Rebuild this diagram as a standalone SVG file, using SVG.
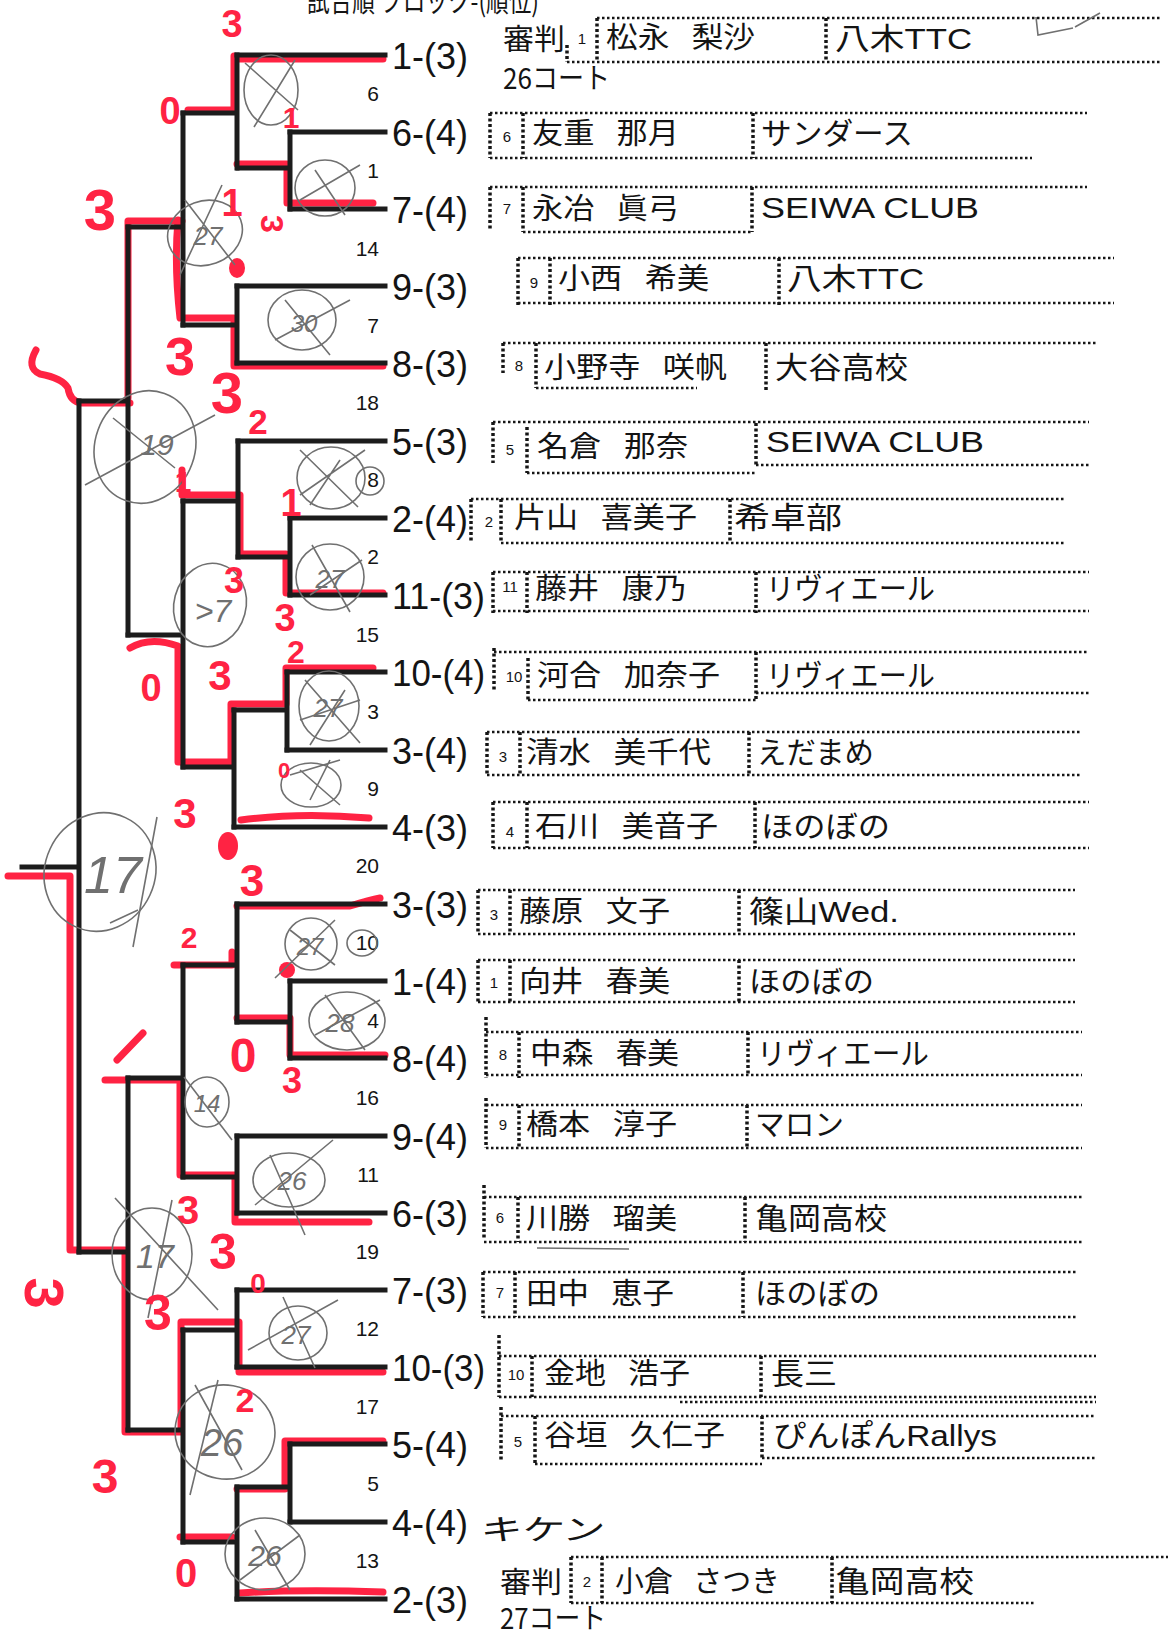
<svg xmlns="http://www.w3.org/2000/svg" width="1168" height="1634" viewBox="0 0 1168 1634">
<style>
.br{stroke:#1c1c1c;stroke-width:5;fill:none;stroke-linecap:square}
.hl{stroke:#ff2343;stroke-width:7;fill:none;stroke-linecap:round;stroke-linejoin:round}
.dt{stroke:#161616;stroke-width:2.5;stroke-dasharray:2.5 2.5;fill:none}
.dv{stroke:#161616;stroke-width:3.5;stroke-dasharray:3 2.5;fill:none}
.lbl{font-family:"Liberation Sans",Arial,sans-serif;font-size:36px;fill:#141414}
.mn{font-family:"Liberation Sans",Arial,sans-serif;font-size:21px;fill:#141414;text-anchor:end}
.nm{font-family:"Noto Sans CJK JP","Noto Sans CJK SC",sans-serif;font-size:29px;fill:#141414}
.pn{word-spacing:14px}
.tm{font-family:"Liberation Sans","Noto Sans CJK JP",sans-serif;font-size:30px;fill:#141414}
.sd{font-family:"Liberation Sans",Arial,sans-serif;font-size:15px;fill:#141414;text-anchor:middle}
.pc{stroke:#707070;stroke-width:1.6;fill:none}
.pt{font-family:"Liberation Sans",Arial,sans-serif;font-style:italic;fill:#707070;text-anchor:middle}
.rn{font-family:"Liberation Sans",Arial,sans-serif;font-weight:bold;fill:#ff2343;text-anchor:middle}
</style>
<rect width="1168" height="1634" fill="#fff"/>
<text class="nm" x="307" y="12" font-size="24" textLength="232" lengthAdjust="spacingAndGlyphs">試合順 ブロック-(順位)</text>

<g id="red-highlights">
<path class="hl" d="M237,59H383"/>
<path class="hl" d="M234,56V110H188"/>
<path class="hl" d="M237,164H287V203H373"/>
<path class="hl" d="M182,221H128V398"/>
<path class="hl" d="M178,220Q174,265 180,318H234V366H383"/>
<path class="hl" d="M36,350Q26,368 40,374Q62,378 68,388Q70,402 82,403H130"/>
<path class="hl" d="M182,470V495H240V554H286V593H383"/>
<path class="hl" d="M130,648Q150,636 178,646V762H231V704H286V668H373"/>
<path class="hl" d="M241,820Q300,812 369,818"/>
<path class="hl" d="M237,906H350Q370,900 380,898"/>
<path class="hl" d="M174,965H232V952"/>
<path class="hl" d="M237,1018H290V1055H385"/>
<path class="hl" d="M105,1080H180V1175H235V1222H369"/>
<path class="hl" d="M383,1372H239V1322H181V1432H125V1250H70V876H8"/>
<path class="hl" d="M237,1489H285V1441H383"/>
<path class="hl" d="M180,1537H232"/>
<path class="hl" stroke-width="10" d="M240,1593Q300,1589 383,1592"/>
<path class="hl" stroke-width="8" d="M117,1060L143,1033"/>
<ellipse cx="237" cy="268" rx="8" ry="10" fill="#ff2343"/>
<ellipse cx="228" cy="846" rx="10" ry="14" fill="#ff2343"/>
<ellipse cx="287" cy="970" rx="8" ry="8" fill="#ff2343"/>
</g>

<g id="connectors">
<path class="br" d="M237,55H385 M290,132H385 M290,209H385 M237,286H385 M237,363H385 M238,441H385 M290,518H385 M290,595H385 M287,672H385 M287,750H385 M234,827H385 M237,904H385 M290,981H385 M290,1058H385 M237,1136H385 M237,1213H385 M237,1290H385 M237,1367H385 M290,1444H385 M290,1522H385 M237,1599H385"/>
<path class="br" d="M290,132V209 M238,168H290"/>
<path class="br" d="M237,55V168 M183,113H237"/>
<path class="br" d="M237,286V363 M183,325H237"/>
<path class="br" d="M183,113V325 M128,227H183"/>
<path class="br" d="M290,518V595 M238,557H290"/>
<path class="br" d="M238,441V557 M183,501H238"/>
<path class="br" d="M287,672V750 M234,710H287"/>
<path class="br" d="M234,710V827 M183,767H234"/>
<path class="br" d="M183,501V767 M128,635H183"/>
<path class="br" d="M128,227V635 M79,401H128"/>
<path class="br" d="M290,981V1058 M237,1022H290"/>
<path class="br" d="M237,904V1022 M183,965H237"/>
<path class="br" d="M237,1136V1213 M183,1177H237"/>
<path class="br" d="M183,965V1177 M128,1078H183"/>
<path class="br" d="M237,1290V1367 M183,1330H237"/>
<path class="br" d="M290,1444V1522 M237,1487H290"/>
<path class="br" d="M237,1487V1599 M183,1542H237"/>
<path class="br" d="M183,1330V1542 M128,1430H183"/>
<path class="br" d="M128,1078V1430 M79,1252H128"/>
<path class="br" d="M79,401V1252 M22,867H79"/>
</g>

<g id="match-numbers">
<text class="mn" x="379" y="101">6</text>
<text class="mn" x="379" y="178">1</text>
<text class="mn" x="379" y="256">14</text>
<text class="mn" x="379" y="333">7</text>
<text class="mn" x="379" y="410">18</text>
<text class="mn" x="379" y="487">8</text>
<text class="mn" x="379" y="564">2</text>
<text class="mn" x="379" y="642">15</text>
<text class="mn" x="379" y="719">3</text>
<text class="mn" x="379" y="796">9</text>
<text class="mn" x="379" y="873">20</text>
<text class="mn" x="379" y="950">10</text>
<text class="mn" x="379" y="1028">4</text>
<text class="mn" x="379" y="1105">16</text>
<text class="mn" x="379" y="1182">11</text>
<text class="mn" x="379" y="1259">19</text>
<text class="mn" x="379" y="1336">12</text>
<text class="mn" x="379" y="1414">17</text>
<text class="mn" x="379" y="1491">5</text>
<text class="mn" x="379" y="1568">13</text>
</g>

<g id="row0">
<text class="lbl" x="392" y="69" textLength="76" lengthAdjust="spacingAndGlyphs">1-(3)</text>
<text class="nm" x="503" y="50" font-size="29" textLength="62" lengthAdjust="spacingAndGlyphs">審判</text>
<text class="nm" x="503" y="89" font-size="27" textLength="107" lengthAdjust="spacingAndGlyphs">26コート</text>
<path class="dt" d="M597,18H1162 M567,62H1162"/>
<path class="dv" d="M567,45V62 M597,18V62 M826,18V62"/>
<text class="sd" x="582" y="44">1</text>
<text class="nm pn" x="606" y="48" textLength="149" lengthAdjust="spacingAndGlyphs">松永 梨沙</text>
<text class="tm" x="835" y="49" textLength="137" lengthAdjust="spacingAndGlyphs">八木TTC</text>
</g>
<g id="row1">
<text class="lbl" x="392" y="146" textLength="76" lengthAdjust="spacingAndGlyphs">6-(4)</text>
<path class="dt" d="M490,113H1087 M490,158H1032"/>
<path class="dv" d="M490,113V158 M523,113V158 M753,113V158"/>
<text class="sd" x="507" y="142">6</text>
<text class="nm pn" x="532" y="144" textLength="147" lengthAdjust="spacingAndGlyphs">友重 那月</text>
<text class="tm" x="761" y="144" textLength="152" lengthAdjust="spacingAndGlyphs">サンダース</text>
</g>
<g id="row2">
<text class="lbl" x="392" y="223" textLength="76" lengthAdjust="spacingAndGlyphs">7-(4)</text>
<path class="dt" d="M490,187H1087 M523,232H752"/>
<path class="dv" d="M490,187V230 M523,187V232 M752,187V232"/>
<text class="sd" x="507" y="214">7</text>
<text class="nm pn" x="532" y="219" textLength="147" lengthAdjust="spacingAndGlyphs">永冶 眞弓</text>
<text class="tm" x="761" y="218" textLength="218" lengthAdjust="spacingAndGlyphs">SEIWA CLUB</text>
</g>
<g id="row3">
<text class="lbl" x="392" y="300" textLength="76" lengthAdjust="spacingAndGlyphs">9-(3)</text>
<path class="dt" d="M518,258H1114 M518,303H1114"/>
<path class="dv" d="M518,258V305 M550,258V305 M779,258V305"/>
<text class="sd" x="534" y="288">9</text>
<text class="nm pn" x="558" y="289" textLength="151" lengthAdjust="spacingAndGlyphs">小西 希美</text>
<text class="tm" x="787" y="289" textLength="137" lengthAdjust="spacingAndGlyphs">八木TTC</text>
</g>
<g id="row4">
<text class="lbl" x="392" y="377" textLength="76" lengthAdjust="spacingAndGlyphs">8-(3)</text>
<path class="dt" d="M503,343H1098 M536,388H697"/>
<path class="dv" d="M503,343V373 M536,343V388 M766,343V392"/>
<text class="sd" x="519" y="371">8</text>
<text class="nm pn" x="544" y="378" textLength="183" lengthAdjust="spacingAndGlyphs">小野寺 咲帆</text>
<text class="tm" x="775" y="378" textLength="133" lengthAdjust="spacingAndGlyphs">大谷高校</text>
</g>
<g id="row5">
<text class="lbl" x="392" y="455" textLength="76" lengthAdjust="spacingAndGlyphs">5-(3)</text>
<path class="dt" d="M493,422H1089 M527,473H756 M756,465H1089"/>
<path class="dv" d="M493,422V463 M527,427V473 M756,423V467"/>
<text class="sd" x="510" y="455">5</text>
<text class="nm pn" x="537" y="457" textLength="151" lengthAdjust="spacingAndGlyphs">名倉 那奈</text>
<text class="tm" x="766" y="452" textLength="218" lengthAdjust="spacingAndGlyphs">SEIWA CLUB</text>
</g>
<g id="row6">
<text class="lbl" x="392" y="532" textLength="76" lengthAdjust="spacingAndGlyphs">2-(4)</text>
<path class="dt" d="M471,499H1066 M501,543H1066"/>
<path class="dv" d="M471,499V543 M501,499V543 M730,499V543"/>
<text class="sd" x="489" y="527">2</text>
<text class="nm pn" x="514" y="528" textLength="183" lengthAdjust="spacingAndGlyphs">片山 喜美子</text>
<text class="tm" x="734" y="528" textLength="108" lengthAdjust="spacingAndGlyphs">希卓部</text>
</g>
<g id="row7">
<text class="lbl" x="392" y="609" textLength="93" lengthAdjust="spacingAndGlyphs">11-(3)</text>
<path class="dt" d="M493,572H1089"/>
<path class="dt" stroke-width="3.5" d="M493,611H1089"/>
<path class="dv" d="M493,572V613 M527,572V613 M756,572V613"/>
<text class="sd" x="510" y="592">11</text>
<text class="nm pn" x="535" y="599" textLength="151" lengthAdjust="spacingAndGlyphs">藤井 康乃</text>
<text class="tm" x="766" y="599" textLength="169" lengthAdjust="spacingAndGlyphs">リヴィエール</text>
</g>
<g id="row8">
<text class="lbl" x="392" y="686" textLength="93" lengthAdjust="spacingAndGlyphs">10-(4)</text>
<path class="dt" d="M494,652H1089 M528,700H756 M756,693H1089"/>
<path class="dv" d="M494,648V690 M528,658V702 M756,652V700"/>
<text class="sd" x="514" y="682">10</text>
<text class="nm pn" x="537" y="686" textLength="183" lengthAdjust="spacingAndGlyphs">河合 加奈子</text>
<text class="tm" x="766" y="686" textLength="169" lengthAdjust="spacingAndGlyphs">リヴィエール</text>
</g>
<g id="row9">
<text class="lbl" x="392" y="764" textLength="76" lengthAdjust="spacingAndGlyphs">3-(4)</text>
<path class="dt" d="M487,732H1082 M487,775H1082"/>
<path class="dv" d="M487,732V775 M520,732V775 M749,732V775"/>
<text class="sd" x="503" y="762">3</text>
<text class="nm pn" x="526" y="763" textLength="185" lengthAdjust="spacingAndGlyphs">清水 美千代</text>
<text class="tm" x="757" y="763" textLength="117" lengthAdjust="spacingAndGlyphs">えだまめ</text>
</g>
<g id="row10">
<text class="lbl" x="392" y="841" textLength="76" lengthAdjust="spacingAndGlyphs">4-(3)</text>
<path class="dt" d="M493,802H1089 M493,848H1089"/>
<path class="dv" d="M493,802V848 M527,802V848 M755,802V848"/>
<text class="sd" x="510" y="837">4</text>
<text class="nm pn" x="535" y="837" textLength="183" lengthAdjust="spacingAndGlyphs">石川 美音子</text>
<text class="tm" x="761" y="837" textLength="129" lengthAdjust="spacingAndGlyphs">ほのぼの</text>
</g>
<g id="row11">
<text class="lbl" x="392" y="918" textLength="76" lengthAdjust="spacingAndGlyphs">3-(3)</text>
<path class="dt" d="M478,890H1075 M478,934H1075"/>
<path class="dv" d="M478,890V934 M510,890V934 M739,890V934"/>
<text class="sd" x="494" y="920">3</text>
<text class="nm pn" x="519" y="922" textLength="151" lengthAdjust="spacingAndGlyphs">藤原 文子</text>
<text class="tm" x="749" y="922" textLength="150" lengthAdjust="spacingAndGlyphs">篠山Wed.</text>
</g>
<g id="row12">
<text class="lbl" x="392" y="995" textLength="76" lengthAdjust="spacingAndGlyphs">1-(4)</text>
<path class="dt" d="M478,960H1075 M478,1002H1075"/>
<path class="dv" d="M478,960V1002 M510,960V1002 M739,960V1002"/>
<text class="sd" x="494" y="988">1</text>
<text class="nm pn" x="519" y="992" textLength="151" lengthAdjust="spacingAndGlyphs">向井 春美</text>
<text class="tm" x="749" y="992" textLength="125" lengthAdjust="spacingAndGlyphs">ほのぼの</text>
</g>
<g id="row13">
<text class="lbl" x="392" y="1072" textLength="76" lengthAdjust="spacingAndGlyphs">8-(4)</text>
<path class="dt" stroke-width="3.5" d="M486,1032H1082"/>
<path class="dt" d="M486,1075H1082"/>
<path class="dv" d="M486,1017V1078 M519,1032V1078 M748,1032V1075"/>
<text class="sd" x="503" y="1060">8</text>
<text class="nm pn" x="530" y="1064" textLength="149" lengthAdjust="spacingAndGlyphs">中森 春美</text>
<text class="tm" x="757" y="1064" textLength="172" lengthAdjust="spacingAndGlyphs">リヴィエール</text>
</g>
<g id="row14">
<text class="lbl" x="392" y="1150" textLength="76" lengthAdjust="spacingAndGlyphs">9-(4)</text>
<path class="dt" d="M486,1105H1082 M486,1148H1082"/>
<path class="dv" d="M486,1098V1148 M519,1105V1148 M747,1105V1148"/>
<text class="sd" x="503" y="1130">9</text>
<text class="nm pn" x="526" y="1135" textLength="151" lengthAdjust="spacingAndGlyphs">橋本 淳子</text>
<text class="tm" x="755" y="1135" textLength="89" lengthAdjust="spacingAndGlyphs">マロン</text>
</g>
<g id="row15">
<text class="lbl" x="392" y="1227" textLength="76" lengthAdjust="spacingAndGlyphs">6-(3)</text>
<path class="dt" d="M484,1197H1082 M484,1242H1082"/>
<path class="dv" d="M484,1185V1240 M518,1197V1242 M745,1197V1242"/>
<text class="sd" x="500" y="1223">6</text>
<text class="nm pn" x="526" y="1229" textLength="151" lengthAdjust="spacingAndGlyphs">川勝 瑠美</text>
<text class="tm" x="755" y="1229" textLength="132" lengthAdjust="spacingAndGlyphs">亀岡高校</text>
</g>
<g id="row16">
<text class="lbl" x="392" y="1304" textLength="76" lengthAdjust="spacingAndGlyphs">7-(3)</text>
<path class="dt" d="M483,1272H1077 M483,1317H1077"/>
<path class="dv" d="M483,1272V1317 M515,1272V1317 M743,1272V1317"/>
<text class="sd" x="500" y="1298">7</text>
<text class="nm pn" x="526" y="1304" textLength="148" lengthAdjust="spacingAndGlyphs">田中 恵子</text>
<text class="tm" x="755" y="1304" textLength="125" lengthAdjust="spacingAndGlyphs">ほのぼの</text>
</g>
<g id="row17">
<text class="lbl" x="392" y="1381" textLength="93" lengthAdjust="spacingAndGlyphs">10-(3)</text>
<path class="dt" d="M499,1356H1096 M499,1397H1096 M680,1402H1096"/>
<path class="dv" d="M499,1335V1397 M532,1356V1397 M761,1356V1397"/>
<text class="sd" x="516" y="1380">10</text>
<text class="nm pn" x="544" y="1384" textLength="146" lengthAdjust="spacingAndGlyphs">金地 浩子</text>
<text class="tm" x="771" y="1384" textLength="66" lengthAdjust="spacingAndGlyphs">長三</text>
</g>
<g id="row18">
<text class="lbl" x="392" y="1458" textLength="76" lengthAdjust="spacingAndGlyphs">5-(4)</text>
<path class="dt" d="M501,1416H1096 M762,1458H1096 M535,1464H762"/>
<path class="dv" d="M501,1407V1460 M535,1416V1464 M762,1416V1460"/>
<text class="sd" x="518" y="1447">5</text>
<text class="nm pn" x="544" y="1446" textLength="181" lengthAdjust="spacingAndGlyphs">谷垣 久仁子</text>
<text class="tm" x="773" y="1446" textLength="224" lengthAdjust="spacingAndGlyphs">ぴんぽんRallys</text>
</g>
<g id="row19">
<text class="lbl" x="392" y="1536" textLength="76" lengthAdjust="spacingAndGlyphs">4-(4)</text>
<text class="nm" x="480" y="1540" font-size="50" fill="#3a3a3a" textLength="124" lengthAdjust="spacingAndGlyphs" transform="skewX(-8) translate(216,0)">キケン</text>
</g>
<g id="row20">
<text class="lbl" x="392" y="1613" textLength="76" lengthAdjust="spacingAndGlyphs">2-(3)</text>
<text class="nm" x="500" y="1593" font-size="29" textLength="62" lengthAdjust="spacingAndGlyphs">審判</text>
<text class="nm" x="500" y="1629" font-size="27" textLength="106" lengthAdjust="spacingAndGlyphs">27コート</text>
<path class="dt" d="M571,1557H1168 M571,1603H1036"/>
<path class="dv" d="M571,1557V1603 M602,1557V1603 M832,1557V1603"/>
<text class="sd" x="587" y="1587">2</text>
<text class="nm pn" x="615" y="1592" textLength="165" lengthAdjust="spacingAndGlyphs">小倉 さつき</text>
<text class="tm" x="835" y="1592" textLength="139" lengthAdjust="spacingAndGlyphs">亀岡高校</text>
</g>

<g id="pencil-marks">
<path class="pc" d="M1036,17L1038,35L1073,28M1075,27L1100,13"/>
<ellipse class="pc" cx="271" cy="90" rx="27" ry="35"/>
<path class="pc" d="M245,63L298,110M254,127L295,60"/>
<ellipse class="pc" cx="325" cy="188" rx="30" ry="28"/>
<path class="pc" d="M300,200L360,165M315,170L345,215"/>
<ellipse class="pc" cx="205" cy="233" rx="38" ry="32" transform="rotate(-20 205 233)"/>
<path class="pc" d="M185,200L235,265M180,275L222,185"/>
<text class="pt" x="208" y="245" font-size="26">27</text>
<ellipse class="pc" cx="302" cy="320" rx="34" ry="30"/>
<path class="pc" d="M275,340L350,300M285,300L330,355"/>
<text class="pt" x="304" y="332" font-size="24">30</text>
<ellipse class="pc" cx="145" cy="447" rx="50" ry="57" transform="rotate(20 145 447)"/>
<path class="pc" d="M85,485L215,415M113,418L175,468"/>
<text class="pt" x="157" y="455" font-size="30">19</text>
<ellipse class="pc" cx="331" cy="478" rx="34" ry="31"/>
<path class="pc" d="M300,495L365,450M300,450L358,507M310,505L340,460"/>
<ellipse class="pc" cx="370" cy="481" rx="14" ry="14"/>
<ellipse class="pc" cx="330" cy="577" rx="34" ry="33"/>
<path class="pc" d="M312,545L350,612M310,595L362,560"/>
<text class="pt" x="330" y="588" font-size="26">27</text>
<ellipse class="pc" cx="210" cy="605" rx="36" ry="42" transform="rotate(15 210 605)"/>
<text class="pt" x="213" y="622" font-size="32">&gt;7</text>
<ellipse class="pc" cx="329" cy="706" rx="30" ry="35"/>
<path class="pc" d="M305,680L360,743M310,745L345,690M300,720L360,700"/>
<text class="pt" x="328" y="717" font-size="26">27</text>
<ellipse class="pc" cx="311" cy="785" rx="30" ry="22"/>
<path class="pc" d="M290,775L340,760M300,770L340,805M310,800L330,760"/>
<ellipse class="pc" cx="100" cy="872" rx="55" ry="60" transform="rotate(25 100 872)"/>
<path class="pc" d="M110,923L138,910M157,817L133,947"/>
<text class="pt" x="113" y="893" font-size="52">17</text>
<ellipse class="pc" cx="311" cy="944" rx="26" ry="26"/>
<path class="pc" d="M275,978L335,920M290,930L335,965"/>
<text class="pt" x="310" y="955" font-size="24">27</text>
<ellipse class="pc" cx="362" cy="943" rx="15" ry="13"/>
<ellipse class="pc" cx="347" cy="1021" rx="38" ry="29"/>
<path class="pc" d="M325,995L365,1050M315,1035L380,1000"/>
<text class="pt" x="340" y="1032" font-size="26">28</text>
<ellipse class="pc" cx="207" cy="1102" rx="22" ry="25"/>
<path class="pc" d="M184,1077L232,1140"/>
<text class="pt" x="207" y="1112" font-size="24">14</text>
<ellipse class="pc" cx="289" cy="1180" rx="36" ry="27"/>
<path class="pc" d="M255,1205L333,1140M270,1155L305,1235"/>
<text class="pt" x="292" y="1190" font-size="26">26</text>
<ellipse class="pc" cx="152" cy="1254" rx="40" ry="46"/>
<path class="pc" d="M115,1198L218,1310M172,1200L148,1318"/>
<text class="pt" x="155" y="1268" font-size="34">17</text>
<ellipse class="pc" cx="298" cy="1333" rx="29" ry="27"/>
<path class="pc" d="M248,1350L338,1300M283,1297L315,1368"/>
<text class="pt" x="296" y="1344" font-size="26">27</text>
<ellipse class="pc" cx="225" cy="1432" rx="50" ry="47" transform="rotate(10 225 1432)"/>
<path class="pc" d="M195,1385L242,1470M190,1495L218,1380"/>
<text class="pt" x="222" y="1456" font-size="38">26</text>
<ellipse class="pc" cx="265" cy="1554" rx="40" ry="36"/>
<path class="pc" d="M240,1580L300,1535M255,1530L290,1590"/>
<text class="pt" x="265" y="1566" font-size="30">26</text>
<path class="pc" d="M537,1248L629,1249"/>
</g>

<g id="red-scores">
<text class="rn" x="232" y="37" font-size="38">3</text>
<text class="rn" x="170" y="124" font-size="38">0</text>
<text class="rn" x="291" y="128" font-size="30">1</text>
<text class="rn" x="100" y="230" font-size="58">3</text>
<text class="rn" x="232" y="216" font-size="38">1</text>
<text class="rn" x="272" y="224" font-size="32" transform="rotate(90 272 224) translate(0,11)">3</text>
<text class="rn" x="180" y="375" font-size="54">3</text>
<text class="rn" x="227" y="413" font-size="58">3</text>
<text class="rn" x="258" y="434" font-size="35">2</text>
<text class="rn" x="291" y="516" font-size="38">1</text>
<text class="rn" x="183" y="492" font-size="30">1</text>
<text class="rn" x="234" y="593" font-size="36">3</text>
<text class="rn" x="285" y="631" font-size="38">3</text>
<text class="rn" x="296" y="663" font-size="32">2</text>
<text class="rn" x="151" y="701" font-size="38">0</text>
<text class="rn" x="220" y="690" font-size="42">3</text>
<text class="rn" x="284" y="778" font-size="22">0</text>
<text class="rn" x="185" y="828" font-size="42">3</text>
<text class="rn" x="252" y="896" font-size="44">3</text>
<text class="rn" x="189" y="948" font-size="30">2</text>
<text class="rn" x="243" y="1072" font-size="48">0</text>
<text class="rn" x="292" y="1093" font-size="36">3</text>
<text class="rn" x="188" y="1224" font-size="40">3</text>
<text class="rn" x="223" y="1269" font-size="50">3</text>
<text class="rn" x="258" y="1293" font-size="28">0</text>
<text class="rn" x="158" y="1330" font-size="50">3</text>
<text class="rn" x="45" y="1293" font-size="56" transform="rotate(90 45 1293) translate(0,20)">3</text>
<text class="rn" x="245" y="1412" font-size="34">2</text>
<text class="rn" x="105" y="1493" font-size="48">3</text>
<text class="rn" x="186" y="1587" font-size="40">0</text>
</g>
</svg>
